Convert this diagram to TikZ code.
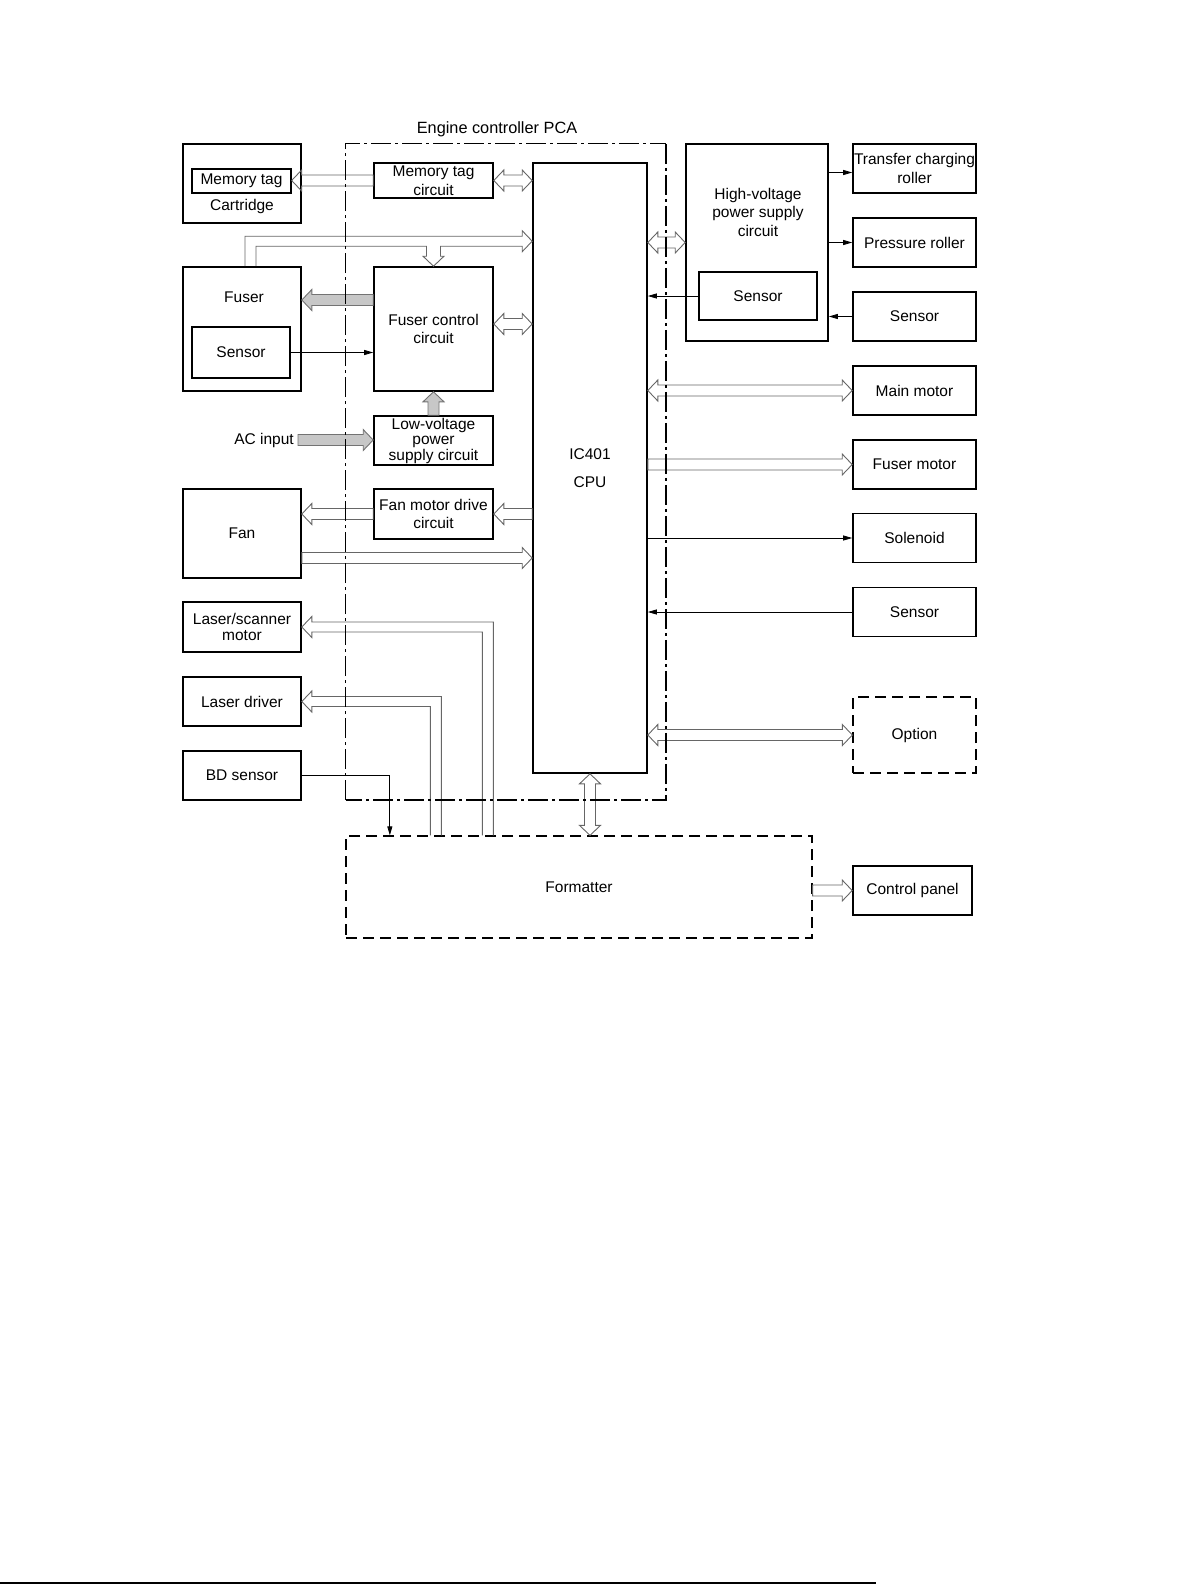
\documentclass[tikz,border=0pt]{standalone}
\usepackage{fontspec}
\setmainfont{Liberation Sans}
\usetikzlibrary{calc,arrows.meta,positioning}
\tikzstyle{sig}=[line width=0.8pt,-{Triangle[length=9pt,width=5pt]}]
\tikzstyle{hol}=[draw=black!60,line width=0.9pt]
\tikzstyle{gar}=[draw=black!55,fill=black!22]
\tikzstyle{dd}=[dash pattern=on 20pt off 4pt on 3pt off 4pt]

% hollow arrow: tail, tip
\newcommand{\hollow}[3][]{%
  \coordinate (ht) at #2; \coordinate (hh) at #3;
  \coordinate (hb) at ($(hh)!10pt!(ht)$);
  \draw[hol,#1] ($(ht)!5.5pt!90:(hh)$) -- ($(hb)!5.5pt!90:(hh)$) -- ($(hb)!10.5pt!90:(hh)$) -- (hh)
    -- ($(hb)!10.5pt!-90:(hh)$) -- ($(hb)!5.5pt!-90:(hh)$) -- ($(ht)!5.5pt!-90:(hh)$) -- cycle;}
% hollow arrow, both ends
\newcommand{\hollowboth}[2]{%
  \coordinate (ht) at #1; \coordinate (hh) at #2;
  \coordinate (hb) at ($(hh)!10pt!(ht)$); \coordinate (hc) at ($(ht)!10pt!(hh)$);
  \draw[hol] (ht) -- ($(hc)!10.5pt!90:(hh)$) -- ($(hc)!5.5pt!90:(hh)$) -- ($(hb)!5.5pt!90:(hh)$) -- ($(hb)!10.5pt!90:(hh)$) -- (hh)
    -- ($(hb)!10.5pt!-90:(hh)$) -- ($(hb)!5.5pt!-90:(hh)$) -- ($(hc)!5.5pt!-90:(hh)$) -- ($(hc)!10.5pt!-90:(hh)$) -- cycle;}

\begin{document}
\begin{tikzpicture}[x=1pt,y=-1pt,font=\fontsize{15.5}{18.5}\selectfont]
\useasboundingbox (0,0) rectangle (1191,1585);
\tikzstyle{box}=[rectangle,draw,line width=1.6pt,inner sep=1pt,align=center,minimum width=118,minimum height=49]
\tikzstyle{rbox}=[box,minimum width=123]
\tikzstyle{dbox}=[box,line width=1.3pt,dash pattern=on 11pt off 6pt]

% left column
\node[box,minimum height=79] (cart) at (242,183.5) {};
\node[box,line width=1.3pt,minimum width=99,minimum height=24] (memtag) at (241.5,181) {Memory tag};
\node (cartlbl) at (242,206) {Cartridge};
\node[box,minimum height=124] (fuser) at (242,329) {};
\node (fuserlbl) at (244,297) {Fuser};
\node[box,line width=1.4pt,minimum width=98,minimum height=51] (fsens) at (241,352.5) {Sensor};
\node[box,minimum height=89] (fan) at (242,533.5) {Fan};
\node[box,minimum height=50] (lsm) at (242,627) {Laser/scanner\\[-3pt]motor};
\node[box] (ld) at (242,701.5) {Laser driver};
\node[box] (bd) at (242,775.5) {BD sensor};
\node[anchor=east,inner sep=4pt] (acin) at (298,440) {AC input};

% engine controller
\node[box,minimum width=119,minimum height=35] (mtc) at (433.5,180.5) {Memory tag\\circuit};
\node[box,minimum width=119,minimum height=124] (fctl) at (433.5,329) {Fuser control\\circuit};
\node[box,minimum width=119] (lv) at (433.5,440.5) {Low-voltage\\[-3pt]power\\[-3pt]supply circuit};
\node[box,minimum width=119,minimum height=50] (fmd) at (433.5,514) {Fan motor drive\\circuit};
\node[box,minimum width=114,minimum height=610] (cpu) at (590,468) {IC401\\[9.5pt]CPU};

% right column
\node[box,minimum width=142,minimum height=197] (hv) at (757,242.5) {};
\node[align=center] (hvlbl) at (758,212) {High-voltage\\power supply\\circuit};
\node[box,line width=1.4pt,minimum width=118,minimum height=48] (hvsens) at (758,296) {Sensor};
\node[rbox,inner sep=0.3pt] (tcr) at (914.5,168.5) {Transfer charging\\roller};
\node[rbox] (pr) at (914.5,242.5) {Pressure roller};
\node[rbox] (hsen) at (914.5,316.5) {Sensor};
\node[rbox] (mm) at (914.5,390.5) {Main motor};
\node[rbox] (fm) at (914.5,464.5) {Fuser motor};
\node[rbox] (sol) at (914.5,538) {Solenoid};
\node[rbox] (rsen) at (914.5,612) {Sensor};
\node[dbox,minimum width=123,minimum height=76] (opt) at (914.5,735) {Option};
\node[box,minimum width=119] (cp) at (912.5,890.5) {Control panel};
\node[dbox,minimum width=466,minimum height=102] (fmt) at (579,887) {Formatter};

% left side connections
\hollow{(mtc.west)}{(memtag.east |- mtc.west)}
\hollowboth{(mtc.east)}{(mtc.east -| cpu.west)}
\coordinate (fbend) at ($(fuser.north)+(8.5,-25)$);
\draw[hol] ($(fuser.north -| fbend)+(-5.5,0)$) -- ($(fbend)+(-5.5,-5)$) -- ($(fbend -| cpu.west)+(-10,-5)$)
  -- ($(fbend -| cpu.west)+(-10,-10.5)$) -- (fbend -| cpu.west) -- ($(fbend -| cpu.west)+(-10,10.5)$)
  -- ($(fbend -| cpu.west)+(-10,5)$) -- ($(fbend -| fctl.north)+(7,5)$) -- ($(fctl.north)+(7,-10)$)
  -- ($(fctl.north)+(10.5,-10)$) -- (fctl.north) -- ($(fctl.north)+(-10.5,-10)$) -- ($(fctl.north)+(-7,-10)$)
  -- ($(fbend -| fctl.north)+(-7,5)$) -- ($(fbend)+(5.5,5)$) -- ($(fuser.north -| fbend)+(5.5,0)$);
\hollow[gar]{($(fctl.west)+(0,-29)$)}{($(fctl.west -| fuser.east)+(0,-29)$)}
\draw[sig] (fsens.east) -- (fsens.east -| fctl.west);
\hollowboth{($(fctl.east)+(0,-5)$)}{($(fctl.east -| cpu.west)+(0,-5)$)}
\hollow[gar]{(lv.north)}{(fctl.south)}
\hollow[gar]{(acin.east)}{(acin.east -| lv.west)}
\hollow{(fmd.west)}{(fmd.west -| fan.east)}
\hollow{(fmd.east -| cpu.west)}{(fmd.east)}
\hollow{($(fan.east)+(0,24.5)$)}{($(fan.east -| cpu.west)+(0,24.5)$)}

% formatter to laser
\coordinate (lsbend) at ($(lsm.east)+(186,0)$);
\draw[hol] ($(fmt.north -| lsbend)+(5.5,0)$) -- ($(lsbend)+(5.5,-5)$) -- ($(lsm.east)+(10,-5)$) -- ($(lsm.east)+(10,-10.5)$)
  -- (lsm.east) -- ($(lsm.east)+(10,10.5)$) -- ($(lsm.east)+(10,5)$) -- ($(lsbend)+(-5.5,5)$) -- ($(fmt.north -| lsbend)+(-5.5,0)$);
\coordinate (ldbend) at ($(ld.east)+(134,0)$);
\draw[hol] ($(fmt.north -| ldbend)+(5.5,0)$) -- ($(ldbend)+(5.5,-5)$) -- ($(ld.east)+(10,-5)$) -- ($(ld.east)+(10,-10.5)$)
  -- (ld.east) -- ($(ld.east)+(10,10.5)$) -- ($(ld.east)+(10,5)$) -- ($(ldbend)+(-5.5,5)$) -- ($(fmt.north -| ldbend)+(-5.5,0)$);
\draw[sig] (bd.east) -| ($(fmt.north west)+(44.5,0)$);
\hollowboth{(cpu.south)}{(cpu.south |- fmt.north)}
\hollow{(fmt.east |- cp.west)}{(cp.west)}

% right side connections
\hollowboth{(hv.west -| cpu.east)}{(hv.west)}
\draw[sig] (hvsens.west) -- (hvsens.west -| cpu.east);
\draw[sig] ($(hv.east |- tcr.west)+(0,4)$) -- ($(tcr.west)+(0,4)$);
\draw[sig] (hv.east |- pr.west) -- (pr.west);
\draw[sig] (hsen.west) -- (hsen.west -| hv.east);
\hollowboth{(mm.west -| cpu.east)}{(mm.west)}
\hollow{(fm.west -| cpu.east)}{(fm.west)}
\draw[sig] (sol.west -| cpu.east) -- (sol.west);
\draw[sig] (rsen.west) -- (rsen.west -| cpu.east);
\hollowboth{(opt.west -| cpu.east)}{(opt.west)}

% engine controller PCA frame
\node[minimum width=320,minimum height=656,inner sep=0] (pca) at (506,472) {};
\node[above=6pt of pca.north,xshift=-9pt,inner sep=1pt,font=\fontsize{16.3}{19}\selectfont] (pcalbl) {Engine controller PCA};
\draw[dd,line width=0.9pt] (pca.south west) -- (pca.north west) -- (pca.north east);
\draw[dd,line width=1.8pt] (pca.north east) -- (pca.south east) -- (pca.south west);

\draw[line width=2.2pt] (0,1583) -- (876,1583);
\end{tikzpicture}
\end{document}
